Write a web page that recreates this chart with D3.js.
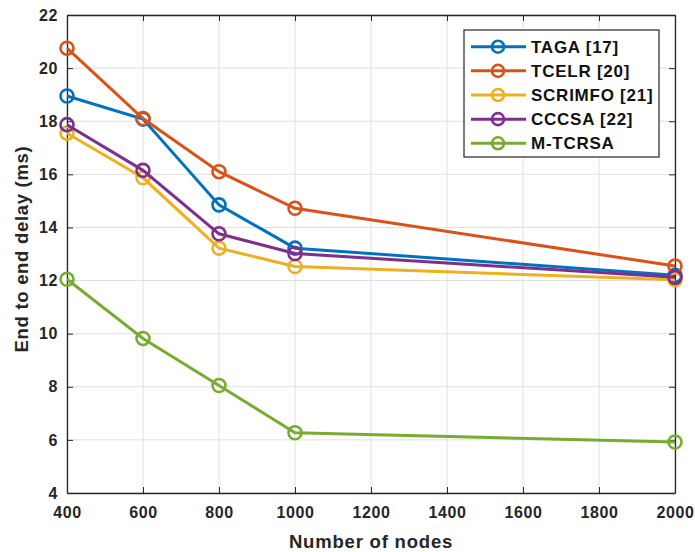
<!DOCTYPE html>
<html><head><meta charset="utf-8">
<script src="https://cdn.jsdelivr.net/npm/d3@7"></script>
<style>body{margin:0;background:#fff}</style>
</head><body>
<svg id="c" width="695" height="552"></svg>
<script>
const nodes = [400, 600, 800, 1000, 2000];
const taga = [18.95, 18.08, 14.85, 13.22, 12.2];
const tcelr = [20.75, 18.1, 16.1, 14.72, 12.55];
const scrimfo = [17.55, 15.87, 13.22, 12.53, 12.03];
const cccsa = [17.87, 16.15, 13.76, 13.02, 12.12];
const mtcrsa = [12.05, 9.82, 8.05, 6.27, 5.92];
const seriesNames = ["TAGA [17]", "TCELR [20]", "SCRIMFO [21]", "CCCSA [22]", "M-TCRSA"];
const colors = ["#0072BD", "#D95319", "#EDB120", "#7E2F8E", "#77AC30"];
const xTicks = [400, 600, 800, 1000, 1200, 1400, 1600, 1800, 2000];
const yTicks = [4, 6, 8, 10, 12, 14, 16, 18, 20, 22];
const allSeries = [taga, tcelr, scrimfo, cccsa, mtcrsa];

const svg = d3.select("#c");
const L = 67, R = 675, T = 15, B = 493;
const x = d3.scaleLinear().domain([400, 2000]).range([L, R]);
const y = d3.scaleLinear().domain([4, 22]).range([B, T]);
const font = "'Liberation Sans', Arial, sans-serif";
const axisCol = "#262626";

// grid
svg.append("g").selectAll("line").data(xTicks).join("line")
  .attr("x1", d => x(d)).attr("x2", d => x(d)).attr("y1", T).attr("y2", B)
  .attr("stroke", "#dfdfdf").attr("stroke-width", 1);
svg.append("g").selectAll("line").data(yTicks).join("line")
  .attr("y1", d => y(d)).attr("y2", d => y(d)).attr("x1", L).attr("x2", R)
  .attr("stroke", "#dfdfdf").attr("stroke-width", 1);

// axes
const xa = svg.append("g").attr("transform", `translate(0,${B})`)
  .call(d3.axisBottom(x).tickValues(xTicks).tickFormat(d3.format("d")).tickSizeInner(-6).tickSizeOuter(0).tickPadding(14));
const xt = svg.append("g").attr("transform", `translate(0,${T})`)
  .call(d3.axisTop(x).tickValues(xTicks).tickSizeInner(-6).tickSizeOuter(0).tickFormat(""));
const ya = svg.append("g").attr("transform", `translate(${L},0)`)
  .call(d3.axisLeft(y).tickValues(yTicks).tickSizeInner(-6).tickSizeOuter(0).tickPadding(9));
const yr = svg.append("g").attr("transform", `translate(${R},0)`)
  .call(d3.axisRight(y).tickValues(yTicks).tickSizeInner(-6).tickSizeOuter(0).tickFormat(""));
[xa, xt, ya, yr].forEach(g => {
  g.select(".domain").attr("stroke", axisCol).attr("stroke-width", 1.3);
  g.selectAll(".tick line").attr("stroke", axisCol).attr("stroke-width", 1);
  g.selectAll("text").attr("fill", axisCol).style("font-family", font)
    .style("font-size", "16px").style("font-weight", "bold").style("letter-spacing", "0.6px");
});

// labels
svg.append("text").attr("x", x(1200)).attr("y", 548).attr("text-anchor", "middle")
  .style("font-family", font).style("font-size", "18.5px").style("font-weight", "bold")
  .style("letter-spacing", "0.8px")
  .attr("fill", axisCol).text("Number of nodes");
svg.append("text").attr("transform", `translate(28,249) rotate(-90)`)
  .attr("text-anchor", "middle")
  .style("font-family", font).style("font-size", "18.5px").style("font-weight", "bold")
  .style("letter-spacing", "0.7px")
  .attr("fill", axisCol).text("End to end delay (ms)");

// series
const line = d3.line().x((d, i) => x(nodes[i])).y(d => y(d));
allSeries.forEach((s, k) => {
  const g = svg.append("g");
  g.append("path").datum(s).attr("d", line).attr("fill", "none")
    .attr("stroke", colors[k]).attr("stroke-width", 3);
  g.selectAll("circle").data(s).join("circle")
    .attr("cx", (d, i) => x(nodes[i])).attr("cy", d => y(d)).attr("r", 6.5)
    .attr("fill", "none").attr("stroke", colors[k]).attr("stroke-width", 2.6);
});

// legend
const lg = svg.append("g");
lg.append("rect").attr("x", 464).attr("y", 30).attr("width", 195).attr("height", 127)
  .attr("fill", "#fff").attr("stroke", axisCol).attr("stroke-width", 1.2);
seriesNames.forEach((n, k) => {
  const cy = 46.7 + k * 24.15;
  lg.append("line").attr("x1", 471).attr("x2", 526).attr("y1", cy).attr("y2", cy)
    .attr("stroke", colors[k]).attr("stroke-width", 3);
  lg.append("circle").attr("cx", 498).attr("cy", cy).attr("r", 6)
    .attr("fill", "none").attr("stroke", colors[k]).attr("stroke-width", 2.6);
  lg.append("text").attr("x", 531).attr("y", cy + 6)
    .style("font-family", font).style("font-size", "17px").style("font-weight", "bold")
    .style("letter-spacing", "0.75px")
    .attr("fill", "#111").text(n);
});
</script>
</body></html>
